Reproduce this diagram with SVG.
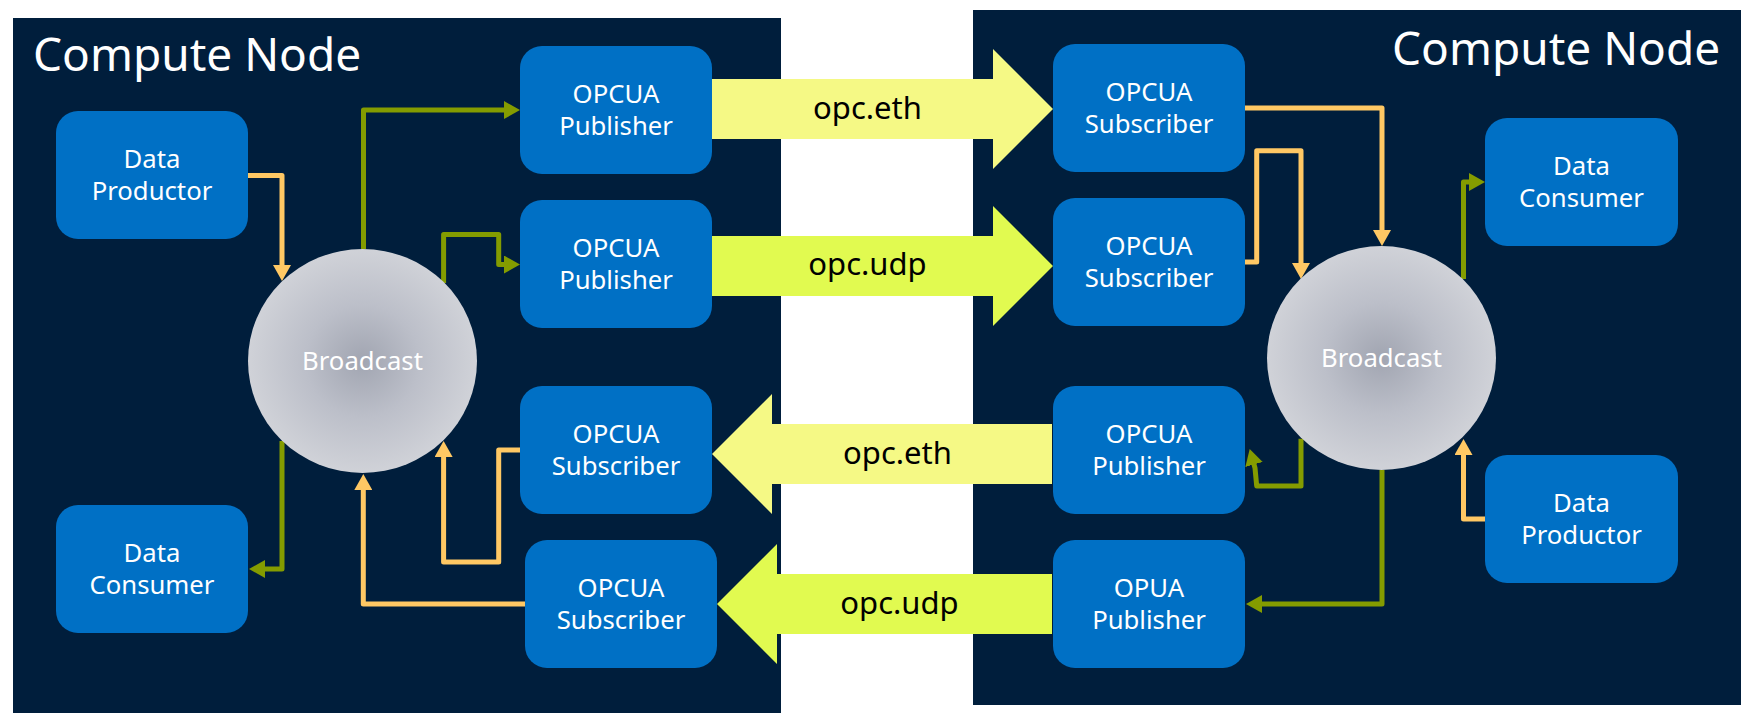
<svg xmlns="http://www.w3.org/2000/svg" width="1747" height="721" viewBox="0 0 1747 721">
<style>
.panel{fill:#001e3c}
.box{fill:#0070c5}
.t{font-family:"Noto Sans","Open Sans","DejaVu Sans",sans-serif;font-size:25.7px;fill:#fff;text-anchor:middle}
.title{font-family:"Noto Sans","Open Sans","DejaVu Sans",sans-serif;font-size:46px;fill:#fff}
.lbl{font-family:"Noto Sans","Open Sans","DejaVu Sans",sans-serif;font-size:31px;fill:#000;text-anchor:middle}
.c{fill:none;stroke-width:5;stroke-linejoin:round}
.o{stroke:#ffc864;marker-end:url(#ho)}
.g{stroke:#849c00;marker-end:url(#hg)}
.eth{fill:#f5f985}
.udp{fill:#e1fa50}
</style>
<defs>
<radialGradient id="rg"><stop offset="0" stop-color="#a1a5b1"/><stop offset="0.5" stop-color="#bcbfc9"/><stop offset="1" stop-color="#d0d2d8"/></radialGradient>
<marker id="ho" markerUnits="userSpaceOnUse" markerWidth="17" markerHeight="18" refX="6" refY="9" orient="auto"><path d="M0 0L16 9L0 18Z" fill="#ffc864"/></marker>
<marker id="hg" markerUnits="userSpaceOnUse" markerWidth="17" markerHeight="18" refX="6" refY="9" orient="auto"><path d="M0 0L16 9L0 18Z" fill="#849c00"/></marker>
</defs>
<rect width="1747" height="721" fill="#fff"/>
<rect class="panel" x="13" y="18" width="768" height="695"/>
<rect class="panel" x="973" y="10" width="768" height="695"/>
<text class="title" x="33" y="71">Compute Node</text>
<text class="title" x="1392" y="65">Compute Node</text>

<g id="flows">
<path class="eth" d="M712 79H993V49L1053 109L993 169V139H712Z"/>
<path class="udp" d="M712 236H993V206L1053 266L993 326V296H712Z"/>
<path class="eth" d="M1052 424H772V394L712 454L772 514V484H1052Z"/>
<path class="udp" d="M1052 574H777V544L717 604L777 664V634H1052Z"/>
<text class="lbl" x="867.5" y="119">opc.eth</text>
<text class="lbl" x="867.5" y="275">opc.udp</text>
<text class="lbl" x="897.5" y="464">opc.eth</text>
<text class="lbl" x="899.5" y="614">opc.udp</text>
</g>

<g id="connectors">
<path class="c o" d="M248 175.5H282V271"/>
<path class="c g" d="M363.5 249V110H510"/>
<path class="c g" d="M443.6 283V234.5H498.7V264.5H510"/>
<path class="c g" d="M282 441V569H259"/>
<path class="c o" d="M520 450H498.7V562H443.6V451"/>
<path class="c o" d="M525 604H363.3V484"/>
<path class="c o" d="M1245 108H1382V236"/>
<path class="c o" d="M1245 262H1256.7V150.7H1301V269"/>
<path class="c g" d="M1463.5 279V182H1475"/>
<path class="c o" d="M1486 519H1463.5V449"/>
<path class="c g" d="M1301 438.7V486H1256.7L1255 468L1252.4 458.7"/>
<path class="c g" d="M1382 470V604H1256"/>
</g>

<g id="broadcast-left"><ellipse cx="362.5" cy="361" rx="114.5" ry="112" fill="url(#rg)"/><text class="t" x="362.5" y="370">Broadcast</text></g>
<g id="broadcast-right"><ellipse cx="1381.5" cy="358" rx="114.5" ry="112" fill="url(#rg)"/><text class="t" x="1381.5" y="367">Broadcast</text></g>

<g id="left-productor"><rect class="box" x="56" y="111" width="192" height="128" rx="22"/><text class="t" x="152" y="168">Data</text><text class="t" x="152" y="200">Productor</text></g>
<g id="left-consumer"><rect class="box" x="56" y="505" width="192" height="128" rx="22"/><text class="t" x="152" y="562">Data</text><text class="t" x="152" y="594">Consumer</text></g>
<g id="left-pub-1"><rect class="box" x="520" y="46" width="192" height="128" rx="22"/><text class="t" x="616" y="103">OPCUA</text><text class="t" x="616" y="135">Publisher</text></g>
<g id="left-pub-2"><rect class="box" x="520" y="200" width="192" height="128" rx="22"/><text class="t" x="616" y="257">OPCUA</text><text class="t" x="616" y="289">Publisher</text></g>
<g id="left-sub-1"><rect class="box" x="520" y="386" width="192" height="128" rx="22"/><text class="t" x="616" y="443">OPCUA</text><text class="t" x="616" y="475">Subscriber</text></g>
<g id="left-sub-2"><rect class="box" x="525" y="540" width="192" height="128" rx="22"/><text class="t" x="621" y="597">OPCUA</text><text class="t" x="621" y="629">Subscriber</text></g>

<g id="right-sub-1"><rect class="box" x="1053" y="44" width="192" height="128" rx="22"/><text class="t" x="1149" y="101">OPCUA</text><text class="t" x="1149" y="133">Subscriber</text></g>
<g id="right-sub-2"><rect class="box" x="1053" y="198" width="192" height="128" rx="22"/><text class="t" x="1149" y="255">OPCUA</text><text class="t" x="1149" y="287">Subscriber</text></g>
<g id="right-pub-1"><rect class="box" x="1053" y="386" width="192" height="128" rx="22"/><text class="t" x="1149" y="443">OPCUA</text><text class="t" x="1149" y="475">Publisher</text></g>
<g id="right-pub-2"><rect class="box" x="1053" y="540" width="192" height="128" rx="22"/><text class="t" x="1149" y="597">OPUA</text><text class="t" x="1149" y="629">Publisher</text></g>
<g id="right-consumer"><rect class="box" x="1485" y="118" width="193" height="128" rx="22"/><text class="t" x="1581.5" y="175">Data</text><text class="t" x="1581.5" y="207">Consumer</text></g>
<g id="right-productor"><rect class="box" x="1485" y="455" width="193" height="128" rx="22"/><text class="t" x="1581.5" y="512">Data</text><text class="t" x="1581.5" y="544">Productor</text></g>
</svg>
